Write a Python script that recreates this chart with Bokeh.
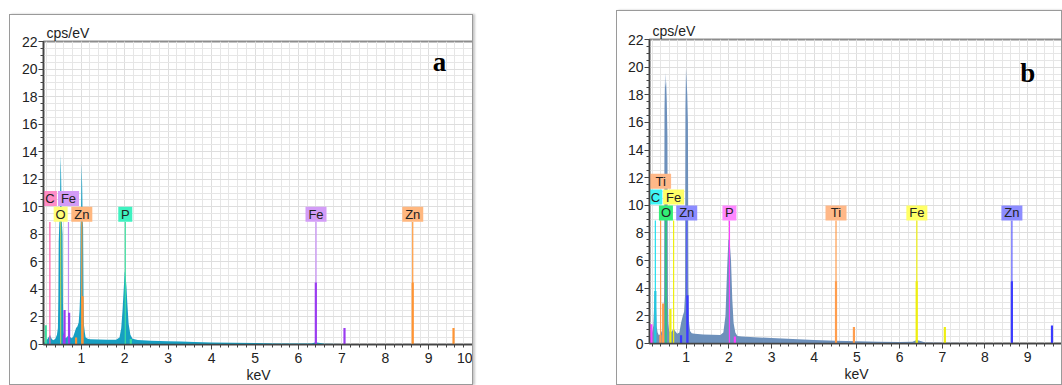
from bokeh.plotting import figure
from bokeh.layouts import row, column
from bokeh.models import Spacer, SingleIntervalTicker, Label, ColumnDataSource
from bokeh.core.properties import value
from bokeh.embed import file_html
from bokeh.resources import INLINE

# ---------------- data: panel a ----------------
energy_a = [0.13, 0.17, 0.21, 0.25, 0.28, 0.31, 0.35, 0.40, 0.44, 0.462, 0.472, 0.48, 0.495,
            0.508, 0.518, 0.527, 0.537, 0.55, 0.568, 0.578, 0.59, 0.61, 0.64, 0.67, 0.70,
            0.73, 0.77, 0.81, 0.85, 0.88, 0.91, 0.94, 0.96, 0.972, 0.982, 0.996, 1.008, 1.02,
            1.032, 1.042, 1.052, 1.062, 1.08, 1.10, 1.15, 1.2, 1.4, 1.6, 1.8, 1.88, 1.92, 1.95,
            1.98, 2.0, 2.02, 2.04, 2.06, 2.09, 2.13, 2.18, 2.3, 2.6, 3.0, 3.3, 3.6, 4.0, 4.5,
            5.0, 5.5, 6.0, 6.3, 6.38, 6.42, 6.5, 6.6, 7.0, 7.5, 8.0, 9.0, 10.0]
counts_a = [0.05, 0.25, 0.35, 0.55, 0.7, 0.45, 0.3, 0.4, 0.7, 1.2, 3.5, 7.5, 8.8,
            9.5, 12.5, 13.8, 12.0, 9.0, 8.0, 3.0, 1.0, 0.5, 0.45, 0.55, 0.65,
            0.6, 0.45, 0.55, 0.9, 1.2, 1.3, 1.6, 2.5, 3.5, 8.5, 10.0, 13.2, 11.5,
            9.0, 8.5, 3.0, 1.4, 0.9, 0.5, 0.42, 0.38, 0.36, 0.34, 0.35, 0.5, 1.2, 2.5,
            4.2, 5.3, 5.0, 4.2, 3.0, 1.5, 0.7, 0.42, 0.32, 0.27, 0.24, 0.22, 0.18, 0.15, 0.12,
            0.1, 0.08, 0.07, 0.08, 0.15, 0.15, 0.1, 0.05, 0.03, 0.02, 0.02, 0.01, 0.01]
label_text_a = ["C", "Fe", "O", "Zn", "P", "Fe", "Zn"]
label_energy_a = [0.277, 0.705, 0.525, 1.012, 2.013, 6.404, 8.631]
label_row_a = [1, 1, 0, 0, 0, 0, 0]
marker_energy_a = [0.183, 0.60, 0.615, 0.72, 0.88, 1.03, 2.14, 6.40, 7.06, 8.63, 9.57]
marker_height_a = [1.4, 0.7, 2.5, 2.3, 0.5, 3.5, 0.4, 4.5, 1.2, 4.5, 1.2]
marker_elem_a = ["P", "Fe", "Fe", "Fe", "Zn", "Zn", "P", "Fe", "Fe", "Zn", "Zn"]

# ---------------- data: panel b ----------------
energy_b = [0.14, 0.17, 0.20, 0.23, 0.25, 0.265, 0.28, 0.295, 0.31, 0.33, 0.36, 0.40, 0.44,
            0.47, 0.482, 0.492, 0.505, 0.52, 0.53, 0.545, 0.56, 0.572, 0.582, 0.60, 0.63, 0.67,
            0.70, 0.74, 0.79, 0.84, 0.88, 0.92, 0.95, 0.972, 0.982, 0.995, 1.01, 1.025, 1.04,
            1.052, 1.065, 1.09, 1.13, 1.2, 1.4, 1.6, 1.8, 1.87, 1.92, 1.96, 1.99, 2.02, 2.05,
            2.08, 2.11, 2.15, 2.2, 2.3, 2.6, 3.0, 3.5, 4.0, 4.5, 5.0, 5.5, 6.0, 6.3, 6.4, 6.47,
            6.6, 7.0, 8.0, 9.0, 9.9]
counts_b = [0.1, 0.6, 0.8, 1.3, 2.8, 3.8, 3.6, 2.5, 1.2, 0.8, 0.6, 0.7, 1.0,
            1.8, 3.5, 17.0, 19.6, 18.5, 19.0, 17.5, 15.0, 3.5, 1.5, 0.9, 0.8, 0.9,
            1.1, 0.9, 0.7, 0.8, 1.5, 2.0, 2.3, 3.5, 17.0, 19.9, 19.0, 18.0, 16.0,
            4.0, 1.6, 0.9, 0.75, 0.7, 0.66, 0.63, 0.62, 0.8, 2.0, 5.5, 7.6, 7.3, 6.0,
            3.2, 1.5, 0.8, 0.55, 0.5, 0.45, 0.4, 0.33, 0.26, 0.2, 0.16, 0.13, 0.11, 0.12, 0.25, 0.2,
            0.08, 0.05, 0.04, 0.03, 0.02]
label_text_b = ["Ti", "C", "Fe", "O", "Zn", "P", "Ti", "Fe", "Zn"]
label_energy_b = [0.40, 0.277, 0.705, 0.525, 1.012, 2.013, 4.51, 6.404, 8.631]
label_row_b = [2, 1, 1, 0, 0, 0, 0, 0, 0]
marker_energy_b = [0.183, 0.277, 0.395, 0.46, 0.63, 0.88, 1.03, 2.14, 4.51, 4.93, 6.40, 7.06, 8.63, 9.57]
marker_height_b = [1.4, 3.8, 0.6, 2.9, 2.5, 0.6, 3.5, 0.5, 4.5, 1.2, 4.5, 1.2, 4.5, 1.3]
marker_elem_b = ["P", "C", "Ti", "Ti", "Fe", "Zn", "Zn", "P", "Ti", "Ti", "Fe", "Fe", "Zn", "Zn"]

y_ticks_step = 2
x_ticks_step = 1

# ---------------- styles ----------------
FONT = "Liberation Sans"
colors_a = {  # element: (box, line, marker)
    "C": ("#ff8cc6", "#ff5aa8", "#ff5aa8"),
    "O": ("#ffff7a", "#a8d060", "#a8d060"),
    "Fe": ("#d39cf7", "#c58af5", "#9a3cf0"),
    "Zn": ("#ffb77f", "#ff9a3c", "#ff9433"),
    "P": ("#3ef2c0", "#3ee0a0", "#3ee0a0"),
}
colors_b = {
    "Ti": ("#ffb888", "#ff9d4d", "#ff9d4d"),
    "C": ("#3ff5f5", "#22e0f0", "#22c8e0"),
    "Fe": ("#ffff66", "#eeee10", "#eeee10"),
    "O": ("#33ee77", "#11dd66", "#11dd66"),
    "Zn": ("#8c8cff", "#5a5aff", "#3a3aff"),
    "P": ("#ff88ff", "#ff40ff", "#ff40ff"),
}
LINE_TOP = 8.9
ROW_STEP = 1.15


def make_panel(width, height, x0, x1, mb, energy, counts, fill, labels, lab_e, lab_row,
               m_e, m_h, m_el, cols, letter, letter_xy):
    p = figure(width=width, height=height, x_range=(x0, x1), y_range=(0, 22),
               output_backend="svg", toolbar_location=None,
               min_border_left=mb[0], min_border_right=mb[1], min_border_top=mb[2],
               min_border_bottom=mb[3], background_fill_color="#ffffff",
               styles={"border": "1px solid #9a9a9a", "box-sizing": "border-box",
                       "box-shadow": "2px 0px 2px #c8c8c8"})
    p.outline_line_color = "#8c8c8c"
    p.outline_line_width = 2

    p.title.text = "cps/eV"
    p.title.align = "left"
    p.title.offset = 3
    p.title.standoff = 1
    p.title.text_font = FONT
    p.title.text_font_size = "14px"
    p.title.text_font_style = "normal"
    p.title.text_color = "#222222"

    p.xaxis.ticker = SingleIntervalTicker(interval=x_ticks_step, num_minor_ticks=5)
    p.yaxis.ticker = SingleIntervalTicker(interval=y_ticks_step, num_minor_ticks=4)
    p.xgrid.ticker = p.xaxis.ticker
    p.ygrid.ticker = p.yaxis.ticker
    for g in (p.xgrid, p.ygrid):
        g.grid_line_color = "#dedede"
        g.minor_grid_line_color = "#e6e6e6"
        g.grid_line_width = 1
    for ax in (p.xaxis, p.yaxis):
        ax.axis_line_color = "#444444"
        ax.axis_line_width = 1.5
        ax.major_tick_line_color = "#444444"
        ax.minor_tick_line_color = "#444444"
        ax.major_tick_out = 5
        ax.major_tick_in = 0
        ax.minor_tick_out = 3
        ax.minor_tick_in = 0
        ax.major_label_text_font = FONT
        ax.major_label_text_font_size = "14px"
        ax.major_label_text_color = "#222222"
        ax.axis_label_text_font = FONT
        ax.axis_label_text_font_size = "14px"
        ax.axis_label_text_font_style = "normal"
        ax.axis_label_text_color = "#222222"
    p.xaxis.axis_label = "keV"
    p.xaxis.major_label_standoff = 3
    p.xaxis.axis_label_standoff = 1
    p.yaxis.major_label_standoff = 1

    # spectrum
    p.varea(x=energy, y1=0, y2=counts, fill_color=fill, fill_alpha=1.0)

    # element lines (full height to label)
    src_lines = ColumnDataSource(dict(x=lab_e, y0=[0] * len(lab_e), y1=[LINE_TOP] * len(lab_e),
                                      c=[cols[t][1] for t in labels]))
    p.segment(x0="x", y0="y0", x1="x", y1="y1", line_color="c", line_width=1.2, source=src_lines)
    # intensity markers
    src_m = ColumnDataSource(dict(x=m_e, y0=[0] * len(m_e), y1=m_h, c=[cols[t][2] for t in m_el]))
    p.segment(x0="x", y0="y0", x1="x", y1="y1", line_color="c", line_width=2.2, source=src_m)

    # label boxes
    src_l = ColumnDataSource(dict(
        x=lab_e, y=[LINE_TOP + r * ROW_STEP + 0.55 for r in lab_row], t=labels,
        w=[7 * len(t) + 7 for t in labels], c=[cols[t][0] for t in labels]))
    p.rect(x="x", y="y", width="w", height=15, width_units="screen", height_units="screen",
           fill_color="c", line_color=None, source=src_l)
    p.text(x="x", y="y", text="t", text_align="center", text_baseline="middle",
           text_font=value(FONT), text_font_size="13px", text_color="#222222", source=src_l)

    p.add_layout(Label(x=letter_xy[0], y=letter_xy[1], text=letter, text_align="center",
                       text_baseline="middle", text_font="Liberation Serif",
                       text_font_style="bold", text_font_size="27px", text_color="#000000"))
    return p


pa = make_panel(464, 371, 0.13, 10.03, (33, 1, 26, 42), energy_a, counts_a, "#179fc2",
                label_text_a, label_energy_a, label_row_a, marker_energy_a, marker_height_a,
                marker_elem_a, colors_a, "a", (9.25, 20.5))
pb = make_panel(446, 375, 0.14, 9.84, (32, 0, 28, 43), energy_b, counts_b, "#6d90bb",
                label_text_b, label_energy_b, label_row_b, marker_energy_b, marker_height_b,
                marker_elem_b, colors_b, "b", (9.0, 19.6))

layout = row(Spacer(width=9), column(Spacer(height=14), pa), Spacer(width=143),
             column(Spacer(height=10), pb))

open("out.html", "w").write(file_html(layout, INLINE))
